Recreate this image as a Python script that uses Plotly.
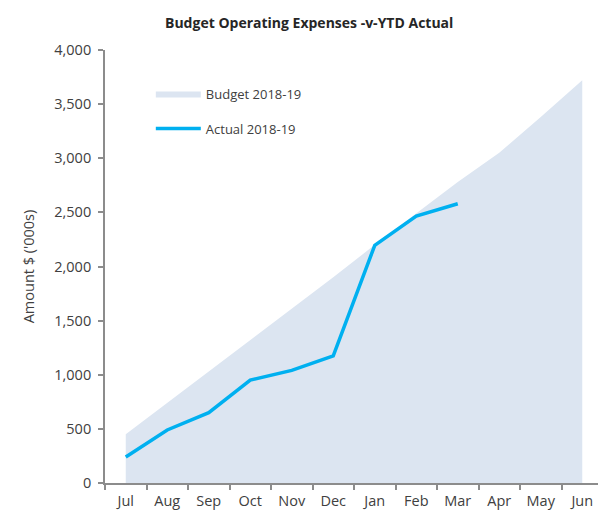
import plotly.graph_objects as go

months = ["Jul", "Aug", "Sep", "Oct", "Nov", "Dec", "Jan", "Feb", "Mar", "Apr", "May", "Jun"]
budget = [450, 740, 1030, 1320, 1610, 1900, 2200, 2490, 2780, 3050, 3380, 3720]
actual_months = ["Jul", "Aug", "Sep", "Oct", "Nov", "Dec", "Jan", "Feb", "Mar"]
actual = [240, 490, 650, 950, 1040, 1175, 2195, 2465, 2580]
y_ticks = [0, 500, 1000, 1500, 2000, 2500, 3000, 3500, 4000]

font_family = "Open Sans, Liberation Sans, sans-serif"
text_color = "#404040"
axis_color = "#8c8c8c"

fig = go.Figure()
fig.add_trace(go.Scatter(
    x=months, y=budget, name="Budget 2018-19", mode="lines",
    fill="tozeroy", fillcolor="rgb(220,229,241)",
    line=dict(width=0, color="rgb(220,229,241)"),
    legendgroup="a", hoverinfo="skip",
))
fig.add_trace(go.Scatter(
    x=actual_months, y=actual, name="Actual 2018-19", mode="lines",
    line=dict(width=3.5, color="#00B0F0"),
    legendgroup="b",
))

fig.update_layout(
    width=606, height=515,
    margin=dict(l=97, r=11, t=42, b=40, autoexpand=False),
    paper_bgcolor="white", plot_bgcolor="white",
    font=dict(family=font_family, size=14, color=text_color),
    title=dict(text="<b>Budget Operating Expenses -v-YTD Actual</b>",
               x=0.497, xanchor="center", y=0.971, yanchor="middle",
               font=dict(size=14, color="#262626")),
    showlegend=True,
    legend=dict(x=0.092, y=0.934, xanchor="left", yanchor="top",
                bgcolor="rgba(0,0,0,0)", font=dict(size=13, color=text_color),
                tracegroupgap=15, traceorder="grouped", itemwidth=45),
    xaxis=dict(type="category", categoryorder="array", categoryarray=months,
               range=[-0.5, 11.5], tickson="boundaries", ticks="outside",
               ticklen=5, tickcolor=axis_color, tickwidth=1.5,
               showline=True, linecolor=axis_color, linewidth=1.8,
               showgrid=False, zeroline=False, fixedrange=True, automargin=False,
               ticklabelstandoff=4,
               tickfont=dict(size=14.5, color=text_color)),
    yaxis=dict(range=[0, 4000], tickvals=y_ticks, tickformat=",d",
               ticks="outside", ticklen=5, tickcolor=axis_color, tickwidth=1.5,
               showline=True, linecolor=axis_color, linewidth=1.8,
               showgrid=False, zeroline=False, automargin=False,
               ticklabelstandoff=4,
               title=dict(text="Amount $ ('000s)", standoff=16,
                          font=dict(size=14.5, color=text_color)),
               tickfont=dict(size=14.5, color=text_color)),
)

fig.write_html("out.html")
